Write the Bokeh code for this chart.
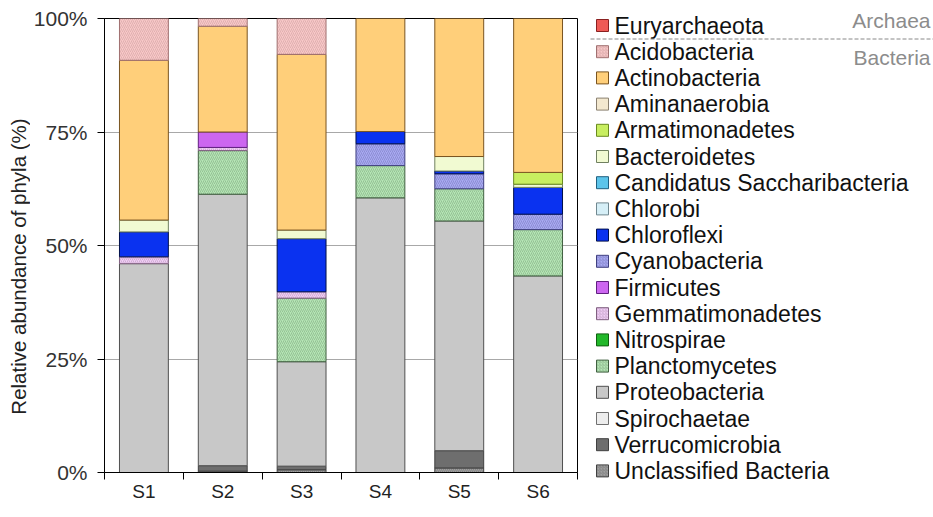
from bokeh.plotting import figure
from bokeh.models import ColumnDataSource, Range1d, FixedTicker, PrintfTickFormatter
from bokeh.layouts import row
from bokeh.embed import file_html
from bokeh.resources import INLINE
from bokeh.core.properties import value
import numpy as np

FONT = "Liberation Sans"

samples = ["S1", "S2", "S3", "S4", "S5", "S6"]

# Relative abundance (%) of each phylum per sample
euryarchaeota = [0, 0, 0, 0, 0, 0]
acidobacteria = [9.2, 1.7, 7.9, 0, 0, 0]
actinobacteria = [35.2, 23.3, 38.7, 24.9, 30.4, 33.9]
aminanaerobia = [0, 0, 0, 0, 0, 0]
armatimonadetes = [0, 0, 0, 0, 0, 2.6]
bacteroidetes = [2.6, 0, 1.9, 0, 3.2, 0.7]
saccharibacteria = [0, 0, 0, 0, 0, 0]
chlorobi = [0, 0, 0, 0, 0, 0]
chloroflexi = [5.5, 0, 11.7, 2.7, 0.6, 5.9]
cyanobacteria = [0, 0, 0, 4.8, 3.3, 3.4]
firmicutes = [0, 3.4, 0, 0, 0, 0]
gemmatimonadetes = [1.5, 0.7, 1.4, 0, 0, 0]
nitrospirae = [0, 0, 0, 0, 0, 0]
planctomycetes = [0, 9.6, 14.0, 7.1, 7.1, 10.2]
proteobacteria = [46.0, 59.8, 23.0, 60.5, 50.6, 43.3]
spirochaetae = [0, 0, 0, 0, 0, 0]
verrucomicrobia = [0, 1.2, 0.8, 0, 3.8, 0]
unclassified = [0, 0.3, 0.6, 0, 1.0, 0]

phyla = ["Euryarchaeota", "Acidobacteria", "Actinobacteria", "Aminanaerobia",
         "Armatimonadetes", "Bacteroidetes", "Candidatus Saccharibacteria",
         "Chlorobi", "Chloroflexi", "Cyanobacteria", "Firmicutes",
         "Gemmatimonadetes", "Nitrospirae", "Planctomycetes", "Proteobacteria",
         "Spirochaetae", "Verrucomicrobia", "Unclassified Bacteria"]

series = [euryarchaeota, acidobacteria, actinobacteria, aminanaerobia,
          armatimonadetes, bacteroidetes, saccharibacteria, chlorobi,
          chloroflexi, cyanobacteria, firmicutes, gemmatimonadetes,
          nitrospirae, planctomycetes, proteobacteria, spirochaetae,
          verrucomicrobia, unclassified]

fills = ["#EE5A55", "#F8C8C8", "#FFCF7A", "#F3E8CF", "#C8EE60", "#F1FAD2",
         "#5CC4EA", "#D6EFF7", "#0A32F0", "#A9AAF2", "#CC66F0", "#F0CDF5",
         "#22B82A", "#B5E6B5", "#C8C8C8", "#EDEDED", "#6E6E6E", "#A0A0A0"]

edges = ["#8A2020", "#A07070", "#7A5420", "#8A8070", "#6A8A20", "#708060",
         "#206080", "#708890", "#00104A", "#404080", "#602080", "#806080",
         "#106010", "#406040", "#505050", "#707070", "#404040", "#404040"]

hatches = [" ", "right_diagonal_line", " ", " ", " ", " ", " ", " ", " ",
           "right_diagonal_line", " ", "right_diagonal_line", " ",
           "right_diagonal_line", " ", " ", " ", "right_diagonal_line"]

x_pos = np.arange(len(samples)) + 0.5


def blank_panel(width):
    """A bare figure whose data coordinates are page pixels."""
    f = figure(width=width, height=517, x_range=Range1d(0, width), y_range=Range1d(517, 0),
               toolbar_location=None, output_backend="svg", x_axis_location=None,
               y_axis_location=None, min_border=0)
    f.frame_align = False
    f.outline_line_color = None
    f.grid.grid_line_color = None
    f.background_fill_color = "white"
    f.border_fill_color = "white"
    return f


# ---- vertical axis title ----
tp = blank_panel(30)
tp.text(x=[18], y=[266], text=["Relative abundance of phyla (%)"], angle=np.pi / 2,
        text_font=value(FONT), text_font_size="20.5px", text_align="center",
        text_baseline="middle", text_color="#222222")

# ---- stacked bar chart ----
p = figure(frame_width=473, frame_height=454, x_range=Range1d(0, len(samples)),
           y_range=Range1d(0, 100), toolbar_location=None, output_backend="svg",
           min_border_left=73, min_border_right=9, min_border_top=18,
           min_border_bottom=45)
p.background_fill_color = "white"
p.border_fill_color = "white"
p.outline_line_color = "black"
p.outline_line_width = 1

p.xgrid.grid_line_color = None
p.ygrid.grid_line_color = "#A8A8A8"
p.ygrid.grid_line_width = 1

p.yaxis.ticker = FixedTicker(ticks=[0, 25, 50, 75, 100])
p.yaxis.formatter = PrintfTickFormatter(format="%d%%")
p.yaxis.major_label_text_font = FONT
p.yaxis.major_label_text_font_size = "21px"
p.yaxis.major_label_text_color = "#333333"
p.yaxis.major_tick_out = 7
p.yaxis.major_tick_in = 0
p.yaxis.minor_tick_line_color = None
p.yaxis.major_label_standoff = 10

p.xaxis.ticker = FixedTicker(ticks=list(x_pos), minor_ticks=list(range(len(samples) + 1)))
p.xaxis.major_label_overrides = {float(x): s for x, s in zip(x_pos, samples)}
p.xaxis.major_label_text_font = FONT
p.xaxis.major_label_text_font_size = "19px"
p.xaxis.major_label_text_color = "#222222"
p.xaxis.major_tick_line_color = None
p.xaxis.major_tick_out = 0
p.xaxis.minor_tick_line_color = "black"
p.xaxis.minor_tick_out = 7
p.xaxis.minor_tick_in = 0
p.xaxis.major_label_standoff = 1

for ax in (p.xaxis, p.yaxis):
    ax.axis_line_color = "black"
    ax.axis_line_width = 1

bottom = np.zeros(len(samples))
for name, vals, fc, lc, hp in reversed(list(zip(phyla, series, fills, edges, hatches))):
    vals = np.asarray(vals, dtype=float)
    keep = vals > 0
    src = ColumnDataSource(dict(x=x_pos[keep], bottom=bottom[keep],
                                top=(bottom + vals)[keep]))
    p.vbar(x="x", bottom="bottom", top="top", width=0.62, source=src,
           fill_color=fc, line_color=lc, line_width=1,
           hatch_pattern=hp, hatch_color=lc, hatch_alpha=0.35,
           hatch_scale=4, hatch_weight=0.8)
    bottom = bottom + vals

# ---- legend panel ----
lg = blank_panel(348)
row_y = 25 + 26.2 * np.arange(len(phyla))
sw = ColumnDataSource(dict(y=row_y, fill=fills, edge=edges, hatch=hatches, name=phyla))
lg.rect(x=16, y="y", width=12, height=12, source=sw, fill_color="fill",
        line_color="edge", line_width=1, hatch_pattern="hatch", hatch_color="edge",
        hatch_alpha=0.35, hatch_scale=3, hatch_weight=0.8)
lg.text(x=28, y="y", text="name", source=sw, text_font=value(FONT),
        text_font_size="23px", text_baseline="middle", text_align="left",
        text_color="#111111")

# domain separator between Archaea and Bacteria
lg.line(x=[4, 348], y=[38.5, 38.5], line_color="#888888", line_width=1, line_dash="4 2")
lg.text(x=[344, 344], y=[20, 57], text=["Archaea", "Bacteria"], text_font=value(FONT),
        text_font_size="21px", text_baseline="middle", text_align="right",
        text_color="#8C8C8C")

layout = row(tp, p, lg)
open("out.html", "w").write(file_html(layout, INLINE))
